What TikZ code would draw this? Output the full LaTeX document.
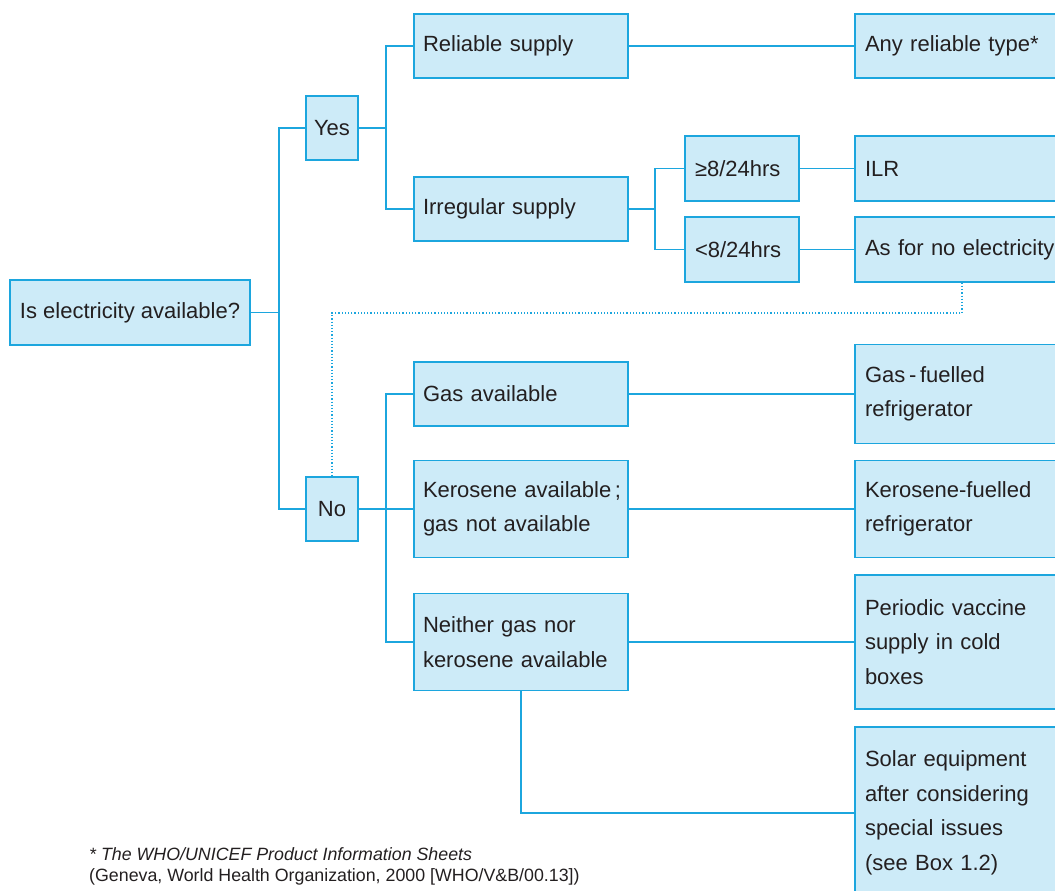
\documentclass[tikz,border=0pt]{standalone}
\usepackage{fontspec}
\setmainfont{Liberation Sans}
\definecolor{boxfill}{RGB}{205,235,248}
\definecolor{boxline}{RGB}{28,166,222}
\definecolor{txt}{RGB}{35,31,32}
\begin{document}
\begin{tikzpicture}[x=1pt,y=-1pt,mybox/.style={rectangle, draw=boxline, fill=boxfill, line width=1.4pt, inner xsep=10pt, inner ysep=0pt, text=txt, font=\fontsize{22}{34.5}\selectfont},myl/.style={mybox, inner xsep=9pt, text width=196pt, align=left},myr/.style={mybox, text width=210pt, align=left},mys/.style={mybox, text width=94pt, align=left, minimum height=65pt},myn/.style={mybox, inner xsep=3pt, minimum width=52pt, minimum height=64pt},myline/.style={draw=boxline, line width=1.5pt},mynote/.style={anchor=base west, inner sep=0pt, text=txt, font=\fontsize{17.8}{21}\selectfont}]
 \clip (0,0) rectangle (1055,891);

  \node[mybox, minimum width=240pt, minimum height=65pt] (q) at (130,312.5) {Is electricity available?};
  \node[myn] (yes) at (332,128) {Yes};
  \node[myn] (no) at (332,509) {No};

  \node[myl, minimum height=64pt] (rel) at (521,46) {Reliable supply};
  \node[myl, minimum height=64pt] (irr) at (521,209) {Irregular supply};
  \node[mys] (ge) at (742,168.5) {≥8/24hrs};
  \node[mys] (lt) at (742,249.5) {<8/24hrs};

  \node[myr, minimum height=64pt] (any) at (970,46) {Any reliable type*};
  \node[myr, minimum height=65pt] (ilr) at (970,168.5) {ILR};
  \node[myr, minimum height=65pt] (asfor) at (970,249.5) {As for no electricity};

  \node[myl, minimum height=64pt] (gas) at (521,394) {Gas available};
  \node[myl, minimum height=97pt] (ker) at (521,509) {\mbox{Kerosene available\,;}\\gas not available};
  \node[myl, minimum height=97pt] (nei) at (521,642) {Neither gas nor\\kerosene available};

  \node[myr, minimum height=99pt] (gasf) at (970,394) {Gas\,-\,fuelled\\refrigerator};
  \node[myr, minimum height=97pt] (kerf) at (970,509) {Kerosene-fuelled\\refrigerator};
  \node[myr, minimum height=134pt] (per) at (970,642) {Periodic vaccine\\supply in cold\\boxes};
  \node[myr, minimum height=172pt] (sol) at (970,813) {Solar equipment\\after considering\\special issues\\(see Box 1.2)};

  \coordinate (t1) at (279,312.5);
  \coordinate (t2) at (386,128);
  \coordinate (t3) at (655,209);
  \coordinate (t4) at (386,509);
  \coordinate (d1) at (962,313);

    \draw[myline] (q) -- (t1);
    \draw[myline] (yes) -| (t1) |- (no);
    \draw[myline] (yes) -- (t2);
    \draw[myline] (rel) -| (t2) |- (irr);
    \draw[myline] (irr) -- (t3);
    \draw[myline] (ge) -| (t3) |- (lt);
    \draw[myline] (rel) -- (any);
    \draw[myline] (ge) -- (ilr);
    \draw[myline] (lt) -- (asfor);
    \draw[myline] (no) -- (ker);
    \draw[myline] (gas) -| (t4) |- (nei);
    \draw[myline] (gas) -- (gasf);
    \draw[myline] (ker) -- (kerf);
    \draw[myline] (nei) -- (per);
    \draw[myline] (nei) |- (sol);
    \draw[myline, line width=1.2pt, dash pattern=on 1.2pt off 2pt] ([xshift=-8pt]asfor.south) -- (d1) -| (no);

  \node[mynote, font=\fontsize{17.8}{21}\selectfont\itshape] (fn1) at (89,860) {* The WHO/UNICEF Product Information Sheets};
  \node[mynote] (fn2) at (89,881) {(Geneva, World Health Organization, 2000 [WHO/V\&B/00.13])};

\end{tikzpicture}
\end{document}
